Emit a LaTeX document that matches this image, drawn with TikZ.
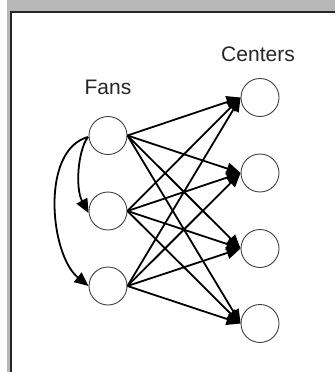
\documentclass[tikz,border=0pt]{standalone}
\usepackage{fontspec}
\setmainfont{Liberation Sans}
\usetikzlibrary{arrows.meta}
\begin{document}
\begin{tikzpicture}[x=1pt,y=-1pt,
  vert/.style={circle,draw=black!75,line width=0.9pt,minimum size=38pt,inner sep=0pt},
  lbl/.style={font=\fontsize{21}{24}\selectfont,inner sep=0pt,text=black!85},
  edge/.style={line width=1.8pt,-{Triangle[length=14pt,width=12pt]}}]
\useasboundingbox (0,0) rectangle (335,372);
\fill[white] (0,0) rectangle (335,372);
% frame
\fill[black!28] (7,0) rectangle (335,11);
\fill[black!28] (7,0) rectangle (9.5,372);
\draw[line width=2pt,black!85] (10.5,372) -- (10.5,12.2) -- (335,12.2);
% nodes
\node[vert] (f1) at (108,135.5) {};
\node[vert] (f2) at (108,211) {};
\node[vert] (f3) at (108,286) {};
\node[vert] (c1) at (260,97.5) {};
\node[vert] (c2) at (260,173) {};
\node[vert] (c3) at (260,248.5) {};
\node[vert] (c4) at (260,323.5) {};
\node[lbl] (fans) at (108,87.5) {Fans};
\node[lbl] (cent) at (258,54.5) {Centers};
% edges
\foreach \f in {f1,f2,f3}{
  \foreach \c in {c1,c2,c3,c4}{
    \draw[edge] (\f.east) -- (\c.west);
  }
}
\coordinate (s) at (88,137);
\draw[edge] (s) .. controls (78,150) and (75,188) .. ([yshift=-2pt]f2.west);
\draw[edge] (s) .. controls (40,150) and (50,255) .. (f3.west);
\end{tikzpicture}
\end{document}
